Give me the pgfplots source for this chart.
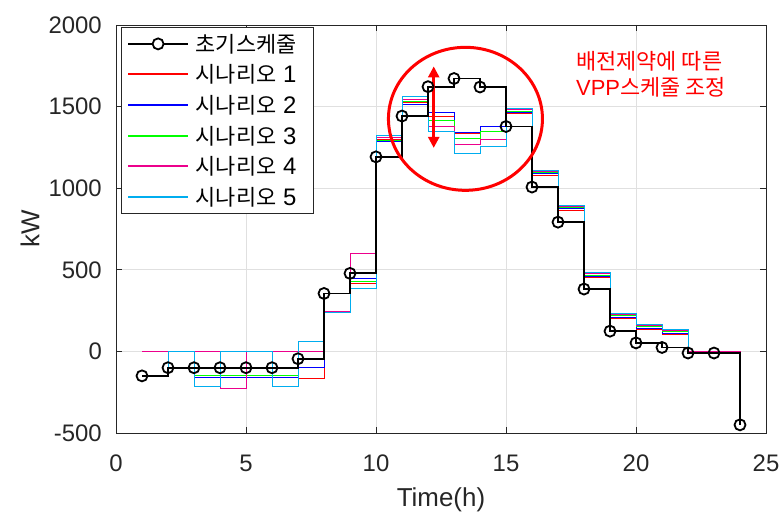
\documentclass[border=0pt]{standalone}
\usepackage{fontspec}
\setmainfont{Liberation Sans}
\newfontfamily\kr{Noto Sans CJK KR}
\usepackage{pgfplots}
\pgfplotsset{compat=1.18}
\usetikzlibrary{arrows.meta}
\definecolor{axgray}{gray}{0.15}
\newcommand\K[1]{{\kr\fontsize{22}{26}\selectfont #1}}
\newcommand\LS{\rule[-5bp]{0pt}{22bp}}

\begin{document}
\begin{tikzpicture}[x=1bp,y=1bp]
\path[use as bounding box] (0,0) rectangle (780,532);
\begin{axis}[
  at={(116bp,99bp)}, anchor=south west,
  scale only axis, width=650bp, height=408bp,
  xmin=0, xmax=25, ymin=-500, ymax=2000,
  xtick={0,5,...,25}, ytick={-500,0,...,2000},
  grid=major, major grid style={draw=black!12, line width=0.8bp},
  axis line style={draw=axgray, line width=0.9bp},
  tick style={draw=axgray, line width=0.9bp},
  tick align=inside, major tick length=6bp,
  /pgf/number format/assume math mode=true,
  /pgf/number format/1000 sep={},
  scaled ticks=false,
  tick label style={font=\fontsize{24}{28}\selectfont, text=black!85},
  xticklabel style={anchor=base, yshift=-39bp, inner sep=0pt},
  yticklabel style={anchor=east, xshift=-14bp, inner sep=0pt},
  xlabel={Time(h)},
  xlabel style={at={(axis description cs:0.5,-0.179)}, anchor=base, font=\fontsize{26}{30}\selectfont, text=black!85},
  ylabel={kW},
  ylabel style={at={(axis description cs:-0.1323,0.5)}, anchor=center, font=\fontsize{26}{30}\selectfont, text=black!85},
  legend style={at={(axis description cs:0,1)}, anchor=north west, xshift=4.7bp, yshift=-1.7bp,
    draw=axgray, line width=0.8bp, fill=white, inner xsep=6bp, inner ysep=5bp, row sep=7bp,
    font=\fontsize{24}{28}\selectfont,
    /tikz/every odd column/.append style={column sep=4.7bp}},
  legend cell align=left,
  legend image code/.code={\draw[#1] (0bp,0bp) -- (60bp,0bp);},
]
\addlegendimage{legend image code/.code={%
  \draw[black, line width=1.8bp] (0bp,0bp) -- (24.5bp,0bp) (35.5bp,0bp) -- (60bp,0bp);
  \draw[black, line width=1.8bp] (30bp,0bp) circle (5.5bp);}}
\addlegendentry{\LS\K{초기스케줄}\rule{9bp}{0pt}}
\addlegendimage{red, line width=2bp}
\addlegendentry{\LS\K{시나리오} 1}
\addlegendimage{blue, line width=2bp}
\addlegendentry{\LS\K{시나리오} 2}
\addlegendimage{green, line width=2bp}
\addlegendentry{\LS\K{시나리오} 3}
\addlegendimage{magenta, line width=2bp}
\addlegendentry{\LS\K{시나리오} 4}
\addlegendimage{cyan, line width=2bp}
\addlegendentry{\LS\K{시나리오} 5}

% Scenario 1
\addplot[red, line width=1bp, const plot, forget plot] coordinates {
(1,0) (2,0) (3,0) (4,-225) (5,0) (6,0) (7,-165) (8,245) (9,417) (10,1300) (11,1525) (12,1440)
(13,1335) (14,1375) (15,1455) (16,1080) (17,865) (18,452) (19,203) (20,135) (21,105) (22,-5) (23,-5) (24,-450)};
% Scenario 2
\addplot[blue, line width=1bp, const plot, forget plot] coordinates {
(1,0) (2,0) (3,-160) (4,-160) (5,-160) (6,-160) (7,-100) (8,245) (9,446) (10,1285) (11,1515) (12,1462)
(13,1340) (14,1380) (15,1462) (16,1090) (17,875) (18,460) (19,210) (20,142) (21,112) (22,-3) (23,-3) (24,-450)};
% Scenario 3
\addplot[green, line width=1bp, const plot, forget plot] coordinates {
(1,0) (2,0) (3,-145) (4,-145) (5,-145) (6,-145) (7,0) (8,245) (9,430) (10,1295) (11,1530) (12,1415)
(13,1305) (14,1345) (15,1470) (16,1095) (17,880) (18,468) (19,218) (20,150) (21,120) (22,-2) (23,-2) (24,-450)};
% Scenario 4
\addplot[magenta, line width=1bp, const plot, forget plot] coordinates {
(1,0) (2,0) (3,0) (4,-225) (5,0) (6,0) (7,0) (8,245) (9,600) (10,1310) (11,1545) (12,1380)
(13,1265) (14,1300) (15,1480) (16,1100) (17,885) (18,475) (19,225) (20,157) (21,127) (22,0) (23,0) (24,-450)};
% Scenario 5
\addplot[cyan, line width=1bp, const plot, forget plot] coordinates {
(1,-150) (2,0) (3,-215) (4,0) (5,0) (6,-215) (7,60) (8,240) (9,387) (10,1320) (11,1560) (12,1350)
(13,1215) (14,1255) (15,1490) (16,1110) (17,895) (18,481) (19,231) (20,164) (21,133) (22,-5) (23,-5) (24,-450)};
% Initial schedule
\addplot[black, line width=1.8bp, const plot, mark=o, mark size=5.5bp, mark options={line width=1.8bp}, forget plot] coordinates {
(1,-150) (2,-100) (3,-100) (4,-100) (5,-100) (6,-100) (7,-45) (8,355) (9,478) (10,1192) (11,1442) (12,1622)
(13,1672) (14,1620) (15,1378) (16,1007) (17,792) (18,382) (19,124) (20,52) (21,24) (22,-10) (23,-10) (24,-450)};

\draw[red, line width=3bp] (axis cs:13.44,1425) ellipse [x radius=77bp, y radius=71.5bp];
\draw[red, line width=2.5bp, {Triangle[length=11bp,width=11bp]}-{Triangle[length=11bp,width=11bp]}]
  (axis cs:12.22,1746) -- (axis cs:12.22,1247);
\node[anchor=base west, inner sep=0pt, text=red, font=\fontsize{22}{26}\selectfont] at (axis cs:17.69,1730) {\K{배전제약에 따른}};
\node[anchor=base west, inner sep=0pt, text=red, font=\fontsize{22}{26}\selectfont] at (axis cs:17.69,1571) {VPP\K{스케줄 조정}};
\end{axis}
\end{tikzpicture}
\end{document}
